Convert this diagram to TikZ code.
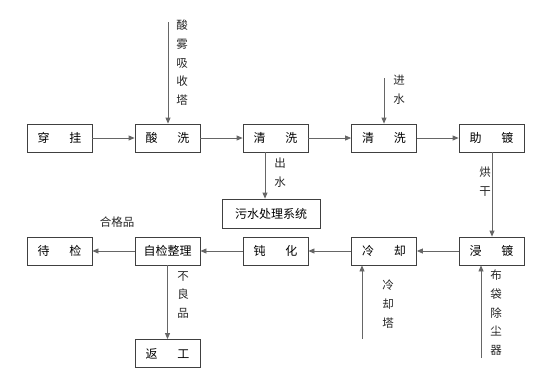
\documentclass[tikz,border=0pt]{standalone}
\usepackage{fontspec}
\newfontfamily\cjk{Noto Sans CJK SC}
\usetikzlibrary{arrows.meta}
\tikzset{
  proc/.style={draw=black!75, line width=0.8pt, minimum width=65pt, minimum height=28pt, inner sep=0pt, font=\cjk\fontsize{12}{12}\selectfont},
  flow/.style={draw=black!60, line width=0.8pt, -{Triangle[length=6pt,width=5pt]}},
  vlab/.style={align=center, inner sep=0pt, font=\cjk\fontsize{11.5}{18.7}\selectfont, text=black!85}
}
\newcommand{\gap}{\hspace{20pt}}
\begin{document}
\begin{tikzpicture}[x=1pt,y=-1pt]
  \useasboundingbox (0,0) rectangle (543,381);
  % top row
  \node[proc] (chuangua) at (59.5,138) {穿\gap 挂};
  \node[proc] (suanxi) at (167.5,138) {酸\gap 洗};
  \node[proc] (qingxi1) at (275.5,138) {清\gap 洗};
  \node[proc] (qingxi2) at (384,138) {清\gap 洗};
  \node[proc] (zhudu) at (491.5,138) {助\gap 镀};
  % bottom row
  \node[proc] (daijian) at (59.5,251) {待\gap 检};
  \node[proc] (zijian) at (167.5,251) {自检整理};
  \node[proc] (dunhua) at (275.5,251) {钝\gap 化};
  \node[proc] (lengque) at (384,251) {冷\gap 却};
  \node[proc] (jindu) at (491.5,251) {浸\gap 镀};
  \node[proc, minimum width=98pt, minimum height=29pt] (wushui) at (271,213.5) {污水处理系统};
  \node[proc] (fangong) at (167.5,353.5) {返\gap 工};
  % free ends
  \coordinate (suanwu) at (168,22);
  \coordinate (jinshui) at (384,78);
  \coordinate (ta) at (362,339);
  \coordinate (budai) at (481,358);
  % connectors
  \draw[flow] (chuangua) -- (suanxi);
  \draw[flow] (suanxi) -- (qingxi1);
  \draw[flow] (qingxi1) -- (qingxi2);
  \draw[flow] (qingxi2) -- (zhudu);
  \draw[flow] (suanwu) -- (suanxi.north -| suanwu);
  \draw[flow] (jinshui) -- (qingxi2.north -| jinshui);
  \draw[flow] (qingxi1.south -| 265,0) -- (wushui.north -| 265,0);
  \draw[flow] (zhudu.south -| 492,0) -- (jindu.north -| 492,0);
  \draw[flow] (jindu) -- (lengque);
  \draw[flow] (lengque) -- (dunhua);
  \draw[flow] (dunhua) -- (zijian);
  \draw[flow] (zijian) -- (daijian);
  \draw[flow] (zijian) -- (fangong);
  \draw[flow] (ta) -- (lengque.south -| ta);
  \draw[flow] (budai) -- (jindu.south -| budai);
  % labels
  \node[vlab, anchor=north] (l1) at (182,20) {酸\\雾\\吸\\收\\塔};
  \node[vlab, anchor=north] (l2) at (399,75) {进\\水};
  \node[vlab, anchor=north] (l3) at (280,158) {出\\水};
  \node[vlab, anchor=north] (l4) at (485,167) {烘\\干};
  \node[vlab, anchor=north] (l5) at (388,280) {冷\\却\\塔};
  \node[vlab, anchor=north] (l6) at (496,270) {布\\袋\\除\\尘\\器};
  \node[vlab, anchor=north] (l7) at (183,271) {不\\良\\品};
  \node[vlab] (l8) at (117,222) {合格品};
\end{tikzpicture}
\end{document}
